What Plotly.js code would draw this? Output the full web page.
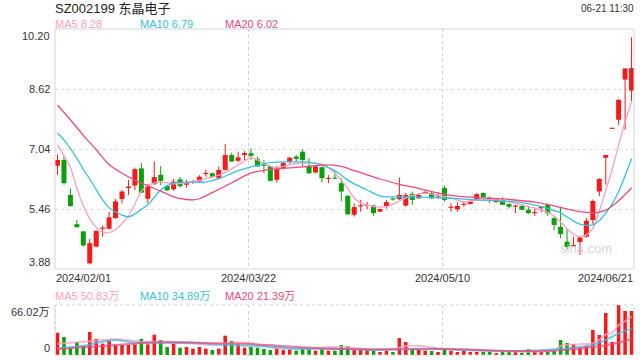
<!DOCTYPE html>
<html><head><meta charset="utf-8">
<script src="https://cdn.plot.ly/plotly-3.0.1.min.js"></script>
<style>html,body{margin:0;padding:0;background:#fff;}#chart{width:640px;height:360px;}</style>
</head><body><div id="chart"></div>
<script>
const chartTitle = 'SZ002199 东晶电子';
const stampText = '06-21 11:30';
const dateLabels = ['2024/02/01', '2024/03/22', '2024/05/10', '2024/06/21'];
const dateLabelIdx = [0, 30, 60, 89];

const openP = [6.60,6.75,5.83,5.06,4.87,4.03,4.47,4.94,4.94,5.22, 5.72,6.01,6.08,6.53,5.73,6.12,6.36,6.07,5.98,6.24,
  6.10,6.16,6.19,6.38,6.40,6.27,6.49,6.88,6.73,6.88, 6.93,6.77,6.62,6.59,6.23,6.53,6.71,6.84,6.97,6.59,
  6.42,6.56,6.25,6.28,6.14,5.81,5.31,5.53,5.54,5.55, 5.39,5.54,5.73,5.72,5.55,5.86,5.74,5.88,5.88,5.79,
  6.01,5.49,5.45,5.57,5.59,5.72,5.88,5.76,5.64,5.70, 5.59,5.52,5.54,5.44,5.35,5.48,5.57,5.22,4.99,4.60,
  4.48,4.59,4.73,5.17,5.92,6.81,7.57,7.81,8.87,8.58];
const highP = [6.90,6.85,6.00,5.17,4.88,4.67,4.90,5.02,5.39,5.72, 5.96,6.23,6.55,6.67,6.12,6.71,6.59,6.10,6.25,6.30,
  6.23,6.22,6.35,6.49,6.42,6.58,7.17,6.94,6.97,6.99, 7.06,6.84,6.75,6.61,6.59,6.70,6.84,6.88,7.03,6.80,
  6.60,6.58,6.35,6.45,6.27,5.82,5.61,5.70,5.65,5.57, 5.47,5.70,5.76,6.29,5.88,5.92,5.86,5.94,5.93,5.90,
  6.07,5.61,5.64,5.66,5.71,5.88,5.90,5.79,5.74,5.77, 5.61,5.57,5.57,5.52,5.46,5.54,5.61,5.26,5.52,4.94,
  4.73,4.73,5.22,5.71,6.28,6.89,7.57,8.36,9.17,9.98];
const lowP = [6.36,6.10,5.52,4.97,4.47,4.00,4.45,4.73,4.92,5.20, 5.61,5.83,5.96,5.88,5.61,6.09,6.09,5.94,5.94,6.02,
  6.02,6.12,6.17,6.31,6.29,6.24,6.47,6.70,6.70,6.75, 6.75,6.57,6.40,6.19,6.16,6.50,6.65,6.71,6.59,6.39,
  6.40,6.16,6.14,6.25,5.66,5.31,5.26,5.39,5.45,5.28, 5.38,5.47,5.68,5.70,5.52,5.57,5.73,5.86,5.73,5.73,
  5.66,5.39,5.39,5.52,5.58,5.70,5.75,5.62,5.63,5.56, 5.47,5.35,5.43,5.33,5.28,5.37,5.28,4.91,4.69,4.40,
  4.46,4.25,4.71,5.06,5.80,6.10,7.57,7.68,7.55,8.30];
const closeP = [6.75,6.14,5.54,4.98,4.50,4.56,4.88,4.97,5.24,5.66, 5.92,6.05,6.51,5.89,6.07,6.30,6.20,5.95,6.18,6.06,
  6.16,6.18,6.31,6.40,6.31,6.49,6.88,6.71,6.82,6.93, 6.86,6.58,6.60,6.20,6.51,6.67,6.81,6.78,6.75,6.40,
  6.58,6.27,6.27,6.26,5.92,5.32,5.51,5.55,5.56,5.35, 5.46,5.64,5.71,5.83,5.83,5.70,5.83,5.90,5.74,5.83,
  5.70,5.51,5.54,5.59,5.66,5.85,5.77,5.68,5.72,5.57, 5.52,5.54,5.44,5.35,5.37,5.52,5.35,5.04,4.80,4.46,
  4.50,4.71,5.15,5.67,6.25,6.88,7.57,8.33,9.16,9.17];
// volume in 万
const volume = [29.4,23.8,9.7,17.2,12.3,30.4,21.1,15.0,18.9,13.2, 13.2,13.2,14.1,21.1,14.1,26.8,19.8,10.6,15.0,9.7,
  10.6,8.4,10.6,8.4,6.6,8.4,25.5,18.5,14.1,9.7, 10.6,9.7,7.9,6.6,8.8,6.6,7.5,5.7,9.7,7.5,
  5.7,7.5,5.7,5.7,13.2,11.9,6.6,6.6,7.5,5.3, 4.0,5.7,4.0,22.4,17.2,8.4,6.6,5.7,5.3,4.0,
  8.4,5.3,4.0,5.3,4.0,4.0,4.0,4.0,2.6,4.0, 4.0,4.0,3.1,7.5,4.0,4.0,4.0,5.3,19.8,15.8,
  14.5,9.7,11.9,33.0,26.4,55.4,17.2,66.02,58.1,58.1];

const ma5Idx = [0,2,3,4,5,6,7,8,9,10,11,12,13,14,15,16,17,18,20,22,24,26,28,30,31,32,33,34,35,36,38,40,41,42,43,44,45,46,47,48,49,51,53,55,57,59,61,63,65,68,71,73,75,76,77,78,79,80,81,82,83,84,85,86,87,88,89];
const ma5Val = [7.15,6.55,6.00,5.55,5.20,4.98,4.85,4.84,4.92,5.08,5.28,5.60,5.93,6.08,6.15,6.17,6.15,6.12,6.15,6.22,6.30,6.42,6.62,6.81,6.75,6.66,6.58,6.54,6.58,6.63,6.67,6.67,6.64,6.55,6.40,6.22,6.00,5.75,5.62,5.56,5.52,5.52,5.67,5.82,5.88,5.82,5.75,5.65,5.69,5.70,5.61,5.53,5.43,5.38,5.27,5.12,4.94,4.80,4.73,4.78,4.95,5.40,5.95,6.50,7.15,7.75,8.28];
const ma10Idx = [0,1,2,3,4,5,6,7,8,9,10,11,12,13,14,15,16,17,18,20,23,25,27,28,30,33,36,38,40,42,43,44,45,46,48,50,52,55,60,65,70,73,75,77,78,79,80,81,82,83,84,85,86,87,88,89];
const ma10Val = [7.46,7.28,7.05,6.80,6.50,6.25,5.97,5.70,5.49,5.38,5.30,5.25,5.33,5.45,5.57,5.77,5.96,6.07,6.15,6.17,6.17,6.26,6.40,6.47,6.57,6.68,6.70,6.70,6.66,6.55,6.47,6.35,6.22,6.12,5.96,5.80,5.78,5.78,5.75,5.70,5.66,5.60,5.52,5.42,5.36,5.25,5.14,5.06,5.03,5.04,5.15,5.35,5.60,5.92,6.33,6.79];
const ma20Idx = [0,2,4,6,8,10,12,14,16,18,20,21,22,24,26,28,30,32,35,38,42,44,46,48,50,53,55,58,61,65,70,74,77,79,81,83,84,85,86,87,88,89];
const ma20Val = [8.20,7.81,7.40,7.02,6.63,6.40,6.22,6.07,5.93,5.78,5.71,5.70,5.73,5.89,6.06,6.24,6.41,6.48,6.53,6.57,6.62,6.58,6.47,6.36,6.25,6.11,6.04,5.92,5.82,5.76,5.71,5.64,5.54,5.46,5.39,5.36,5.38,5.43,5.54,5.68,5.84,6.02];

const vma5Idx = [0,4,9,13,17,21,24,27,30,32,34,39,44,49,52,54,57,59,63,68,73,77,78,81,83,84,85,86,87,88,89];
const vma5Val = [15.0,17.6,20.7,17.6,17.6,15.4,13.2,16.3,15.4,11.9,8.8,8.8,11.0,6.6,7.5,11.9,11.5,8.5,6.6,5.3,4.4,6.6,11.9,14.1,15.4,20.0,27.3,28.8,39.6,44.6,50.83];
const vma10Idx = [0,4,7,9,12,17,22,26,30,33,37,44,49,53,59,63,68,73,77,80,83,85,87,89];
const vma10Val = [8.8,12.3,17.6,19.8,16.3,16.3,15.4,13.2,12.3,11.0,8.4,8.4,6.6,7.5,8.4,6.6,5.7,5.3,7.5,9.7,13.2,20.0,28.6,34.89];
const vma20Idx = [0,4,9,14,20,25,30,34,39,44,49,54,59,63,68,73,77,80,83,86,88,89];
const vma20Val = [7.5,10.1,13.2,16.3,16.7,15.4,14.5,12.3,9.7,7.9,7.5,7.5,7.9,7.5,5.7,5.3,5.7,7.5,10.5,14.5,18.5,21.39];

const priceTicks = [3.88, 5.46, 7.04, 8.62, 10.20];
const volTickVals = [0, 66.02];
const volTickText = ['0', '66.02万'];
const maNames = ['MA5', 'MA10', 'MA20'];
const priceMaText = ['8.28', '6.79', '6.02'];
const volMaText = ['50.83万', '34.89万', '21.39万'];

// ---- styles ----
const RED = '#f31b1b', GREEN = '#0b9f0b';
const MA_COLORS = ['#ff9fbf', '#36c2e3', '#ea4a80'];
const FONT = 'Arial, "Liberation Sans", "Noto Sans CJK SC", sans-serif';
const W = 640, H = 360, L = 55, R = 6, T = 29, B = 5;
const px = x => (x - L) / (W - L - R);
const py = y => (H - B - y) / (H - T - B);
const XR = [-0.39, 89.38];

const idx = closeP.map((_, i) => i);
const up = idx.map(i => closeP[i] >= openP[i]);

function wicks(flag) {
  const x = [], y = [];
  idx.forEach(i => { if (up[i] === flag) { x.push(i, i, null); y.push(lowP[i], highP[i], null); } });
  return {type: 'scatter', mode: 'lines', x, y, xaxis: 'x', yaxis: 'y',
    line: {color: flag ? RED : GREEN, width: 1}, hoverinfo: 'skip'};
}
function bodies(flag) {
  const sel = idx.filter(i => up[i] === flag);
  return {type: 'bar', x: sel, base: sel.map(i => Math.min(openP[i], closeP[i])),
    y: sel.map(i => Math.max(Math.abs(closeP[i] - openP[i]), 0.03)), width: 0.78,
    xaxis: 'x', yaxis: 'y', marker: {color: flag ? RED : GREEN, line: {width: 0}}, hoverinfo: 'skip'};
}
function vols(flag) {
  const sel = idx.filter(i => up[i] === flag);
  return {type: 'bar', x: sel, y: sel.map(i => volume[i]), width: 0.55, xaxis: 'x', yaxis: 'y2',
    marker: {color: flag ? RED : GREEN, line: {width: 0}}, hoverinfo: 'skip'};
}
function maLine(xs, ys, color, axis, w, op) {
  return {type: 'scatter', mode: 'lines', x: xs, y: ys, xaxis: 'x', yaxis: axis,
    line: {color, width: w, shape: 'spline', smoothing: 0.8}, opacity: op, hoverinfo: 'skip'};
}

const data = [
  vols(true), vols(false),
  maLine(vma5Idx, vma5Val, MA_COLORS[0], 'y2', 2, 0.75),
  maLine(vma10Idx, vma10Val, MA_COLORS[1], 'y2', 2, 0.75),
  maLine(vma20Idx, vma20Val, MA_COLORS[2], 'y2', 2, 0.75),
  wicks(true), wicks(false), bodies(true), bodies(false),
  maLine(ma5Idx, ma5Val, MA_COLORS[0], 'y', 1.3, 1),
  maLine(ma10Idx, ma10Val, MA_COLORS[1], 'y', 1.3, 1),
  maLine(ma20Idx, ma20Val, MA_COLORS[2], 'y', 1.3, 1)
];

const ann = [];
const txt = (text, x, y, opts) => Object.assign({text, x, y, xref: 'paper', yref: 'paper', showarrow: false,
  font: {family: FONT, size: 11, color: '#333'}, xanchor: 'left', yanchor: 'middle', borderpad: 0}, opts || {});
ann.push(txt(chartTitle, px(54), py(9), {font: {family: FONT, size: 13, color: '#222'}}));
ann.push(txt(stampText, px(635), py(9), {xanchor: 'right', font: {family: FONT, size: 10, color: '#333'}}));
const legX = [54, 139, 224];
maNames.forEach((n, k) => {
  ann.push(txt(n + ' ' + priceMaText[k], px(legX[k]), py(24), {font: {family: FONT, size: 11, color: MA_COLORS[k]}}));
  ann.push(txt(n + ' ' + volMaText[k], px(legX[k]), py(296), {font: {family: FONT, size: 11, color: MA_COLORS[k]}}));
});
priceTicks.forEach((v, k) => {
  ann.push(txt(v.toFixed(2), px(51), v, {yref: 'y', xanchor: 'right',
    yanchor: k === 0 ? 'bottom' : (k === priceTicks.length - 1 ? 'top' : 'middle')}));
});
volTickVals.forEach((v, k) => {
  ann.push(txt(volTickText[k], px(51), v, {yref: 'y2', xanchor: 'right', yanchor: k === 0 ? 'bottom' : 'top'}));
});
dateLabels.forEach((d, k) => {
  const first = k === 0, last = k === dateLabels.length - 1;
  ann.push(txt(d, first ? XR[0] : (last ? XR[1] : dateLabelIdx[k] - 0.35), py(278), {xref: 'x',
    xanchor: first ? 'left' : (last ? 'right' : 'center')}));
});
ann.push(txt('sina.com', px(586), py(248), {xanchor: 'center', font: {family: FONT, size: 13, color: '#d4d4d4'}}));

const layout = {
  width: W, height: H, margin: {l: L, r: R, t: T, b: B}, paper_bgcolor: '#fff', plot_bgcolor: '#fff',
  showlegend: false, hovermode: false, barmode: 'overlay',
  xaxis: {range: XR, showticklabels: false, ticks: '', zeroline: false, showline: false,
    tickvals: dateLabelIdx.slice(1, 3).map(v => v - 0.35), showgrid: true, gridcolor: '#cfcfcf', griddash: 'dot', gridwidth: 1},
  yaxis: {domain: [py(269), 1], range: [priceTicks[0], priceTicks[4]], showticklabels: false, ticks: '',
    tickvals: priceTicks.slice(1, 4), showgrid: true, gridcolor: '#dcdcdc', griddash: 'dot', zeroline: false, showline: false},
  yaxis2: {domain: [0, py(305)], range: [0, 66.02], showticklabels: false, ticks: '', showgrid: false, zeroline: false, showline: false},
  annotations: ann,
  shapes: [
    {type: 'rect', xref: 'x domain', yref: 'y domain', x0: 0, x1: 1, y0: 0, y1: 1, line: {color: '#d6d6d6', width: 1}},
    {type: 'rect', xref: 'x domain', yref: 'y2 domain', x0: 0, x1: 1, y0: 0, y1: 1, line: {color: '#d0d0d0', width: 1, dash: 'dot'}},
    {type: 'line', xref: 'x domain', yref: 'y2 domain', x0: 0, x1: 0, y0: 0, y1: 1, line: {color: '#d6d6d6', width: 1}}
  ]
};
Plotly.newPlot('chart', data, layout, {staticPlot: true, displayModeBar: false});
</script></body></html>
